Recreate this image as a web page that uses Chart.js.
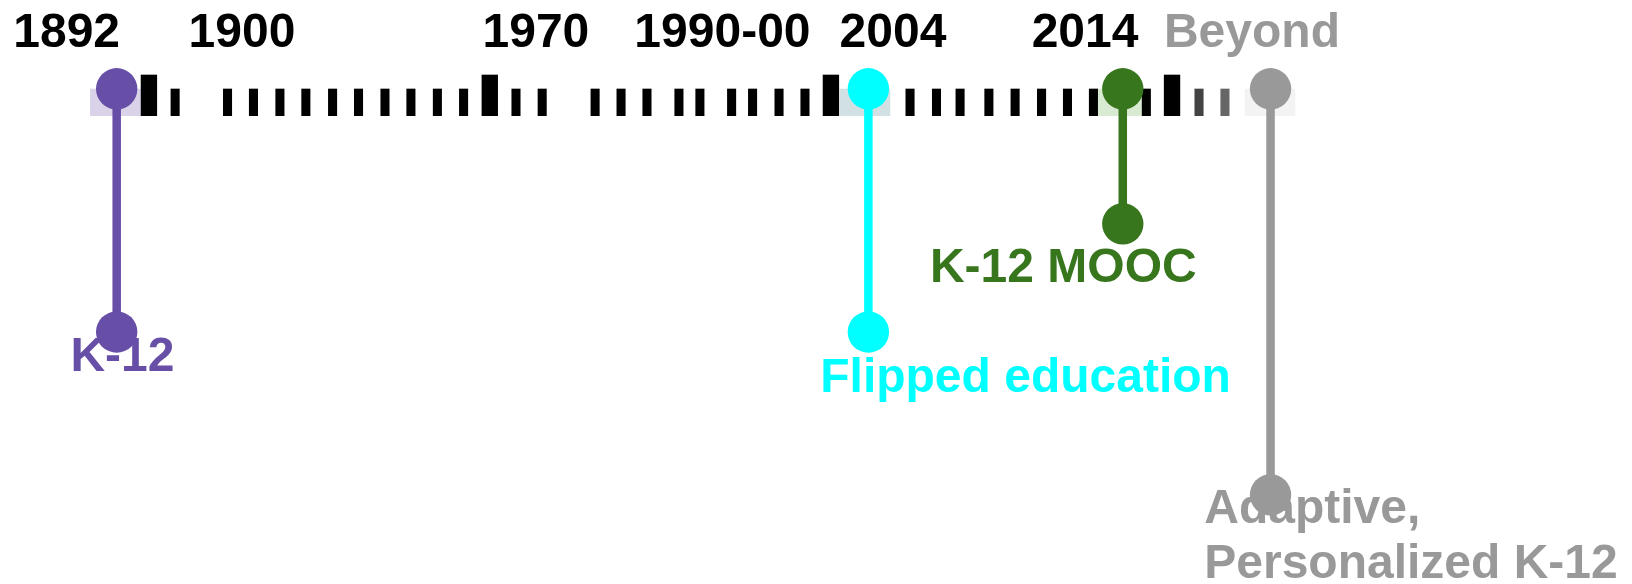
<!DOCTYPE html>
<html>
<head>
<meta charset="utf-8">
<script src="https://cdn.jsdelivr.net/npm/chart.js@4.4.0/dist/chart.umd.min.js"></script>
<style>
  html, body { margin: 0; padding: 0; background: #ffffff; }
  #wrap { width: 1632px; height: 584px; }
</style>
</head>
<body>
<div id="wrap"><canvas id="c" width="1632" height="584"></canvas></div>
<script>
// ---- Data (timeline slot units on x, depth units below the timeline on y) ----
const yearLabels = ['1892', '1900', '1970', '1990-00', '2004', '2014', 'Beyond'];
const yearSlots  = [-1.91, 4.78, 16.00, 23.12, 29.63, 36.96, 43.33];

const minorTickSlots = [2.23, 4.23, 5.22, 6.23, 7.22, 8.24, 9.23, 10.24, 11.23, 12.24, 13.24,
  15.24, 16.24, 18.26, 19.25, 20.24, 21.46, 22.26, 23.47, 24.27, 25.28, 26.27,
  30.28, 31.29, 32.19, 33.29, 34.29, 35.30, 36.29, 37.28, 39.30, 41.31, 42.30];
const majorTickSlots = [1.23, 14.24, 27.26, 40.28];

const eventNames  = [['K-12'], ['Flipped education'], ['K-12 MOOC'], ['Adaptive,', 'Personalized K-12']];
const eventSlots  = [0, 28.69, 38.40, 44.04];
const eventDepths = [24.32, 24.32, 13.5, 40.6];
const highlightSlots = [-0.05, 28.56, 38.28, 44.02];

const eventLabelSlots  = [0.22, 34.69, 36.13, 41.51];
const eventLabelDepths = [28.19, 30.29, 19.29, 43.42];

// ---- Styles ----
const eventColors     = ['#674ea7', '#00ffff', '#38761d', '#999999'];
const highlightColors = ['#d9d2e9', '#d0e0e3', '#d9ead3', '#f3f3f3'];
const yearColors      = ['#000000', '#000000', '#000000', '#000000', '#000000', '#000000', '#999999'];
const eventLabelAlign = ['center', 'center', 'center', 'left'];
const minorTickColors = minorTickSlots.map((s, i) =>
  i === minorTickSlots.length - 2 ? '#434343' : (i === minorTickSlots.length - 1 ? '#666666' : '#000000'));
const FONT = 'bold 48px "Liberation Sans", Arial, Helvetica, sans-serif';
const TICK_TOP = 0.02, TICK_BOTTOM = 2.69, MAJOR_TOP = -1.38;
const LINE_GAP = 5.47;

const datasets = [];
// stems + dots (on top)
eventSlots.forEach((s, i) => {
  datasets.push({
    type: 'line',
    data: [{ x: s, y: 0 }, { x: s, y: eventDepths[i] }],
    borderColor: eventColors[i],
    backgroundColor: eventColors[i],
    borderWidth: 8.5,
    borderCapStyle: 'butt',
    pointRadius: 20.7,
    pointHoverRadius: 20.7,
    pointBorderWidth: 0,
    pointBackgroundColor: eventColors[i],
    tension: 0,
    clip: false,
    order: 0
  });
});
// minor ticks
datasets.push({
  type: 'bar',
  data: minorTickSlots.map(s => ({ x: s, y: [TICK_TOP, TICK_BOTTOM] })),
  backgroundColor: minorTickColors,
  borderWidth: 0,
  barThickness: 8.4,
  stack: 'tl',
  order: 1
});
// major ticks
datasets.push({
  type: 'bar',
  data: majorTickSlots.map(s => ({ x: s, y: [MAJOR_TOP, TICK_BOTTOM] })),
  backgroundColor: '#000000',
  borderWidth: 0,
  barThickness: 15.7,
  stack: 'tl',
  order: 1
});
// highlight boxes under event dots
datasets.push({
  type: 'bar',
  data: highlightSlots.map(s => ({ x: s, y: [TICK_TOP, TICK_BOTTOM] })),
  backgroundColor: highlightColors,
  borderWidth: 0,
  barThickness: 50,
  stack: 'tl',
  order: 2
});

const labelPlugin = {
  id: 'timelineLabels',
  afterDatasetsDraw(chart) {
    const ctx = chart.ctx;
    const xs = chart.scales.x, ys = chart.scales.y;
    ctx.save();
    ctx.font = FONT;
    ctx.textBaseline = 'alphabetic';
    // year labels
    ctx.textAlign = 'center';
    yearLabels.forEach((t, i) => {
      ctx.fillStyle = yearColors[i];
      ctx.fillText(t, xs.getPixelForValue(yearSlots[i]), ys.getPixelForValue(-4.21));
    });
    // event labels
    eventNames.forEach((lines, i) => {
      ctx.fillStyle = eventColors[i];
      ctx.textAlign = eventLabelAlign[i];
      lines.forEach((t, j) => {
        ctx.fillText(t, xs.getPixelForValue(eventLabelSlots[i]),
          ys.getPixelForValue(eventLabelDepths[i] + j * LINE_GAP));
      });
    });
    ctx.restore();
  }
};

new Chart(document.getElementById('c'), {
  type: 'bar',
  data: { datasets },
  options: {
    responsive: false,
    devicePixelRatio: 1,
    animation: false,
    events: [],
    layout: { padding: 0, autoPadding: false },
    plugins: { legend: { display: false }, tooltip: { enabled: false }, title: { display: false } },
    scales: {
      x: { type: 'linear', min: -4.454, max: 57.836, offset: false, display: false },
      y: { type: 'linear', min: -8.88, max: 49.52, reverse: true, display: false, stacked: false }
    }
  },
  plugins: [labelPlugin]
});
</script>
</body>
</html>
